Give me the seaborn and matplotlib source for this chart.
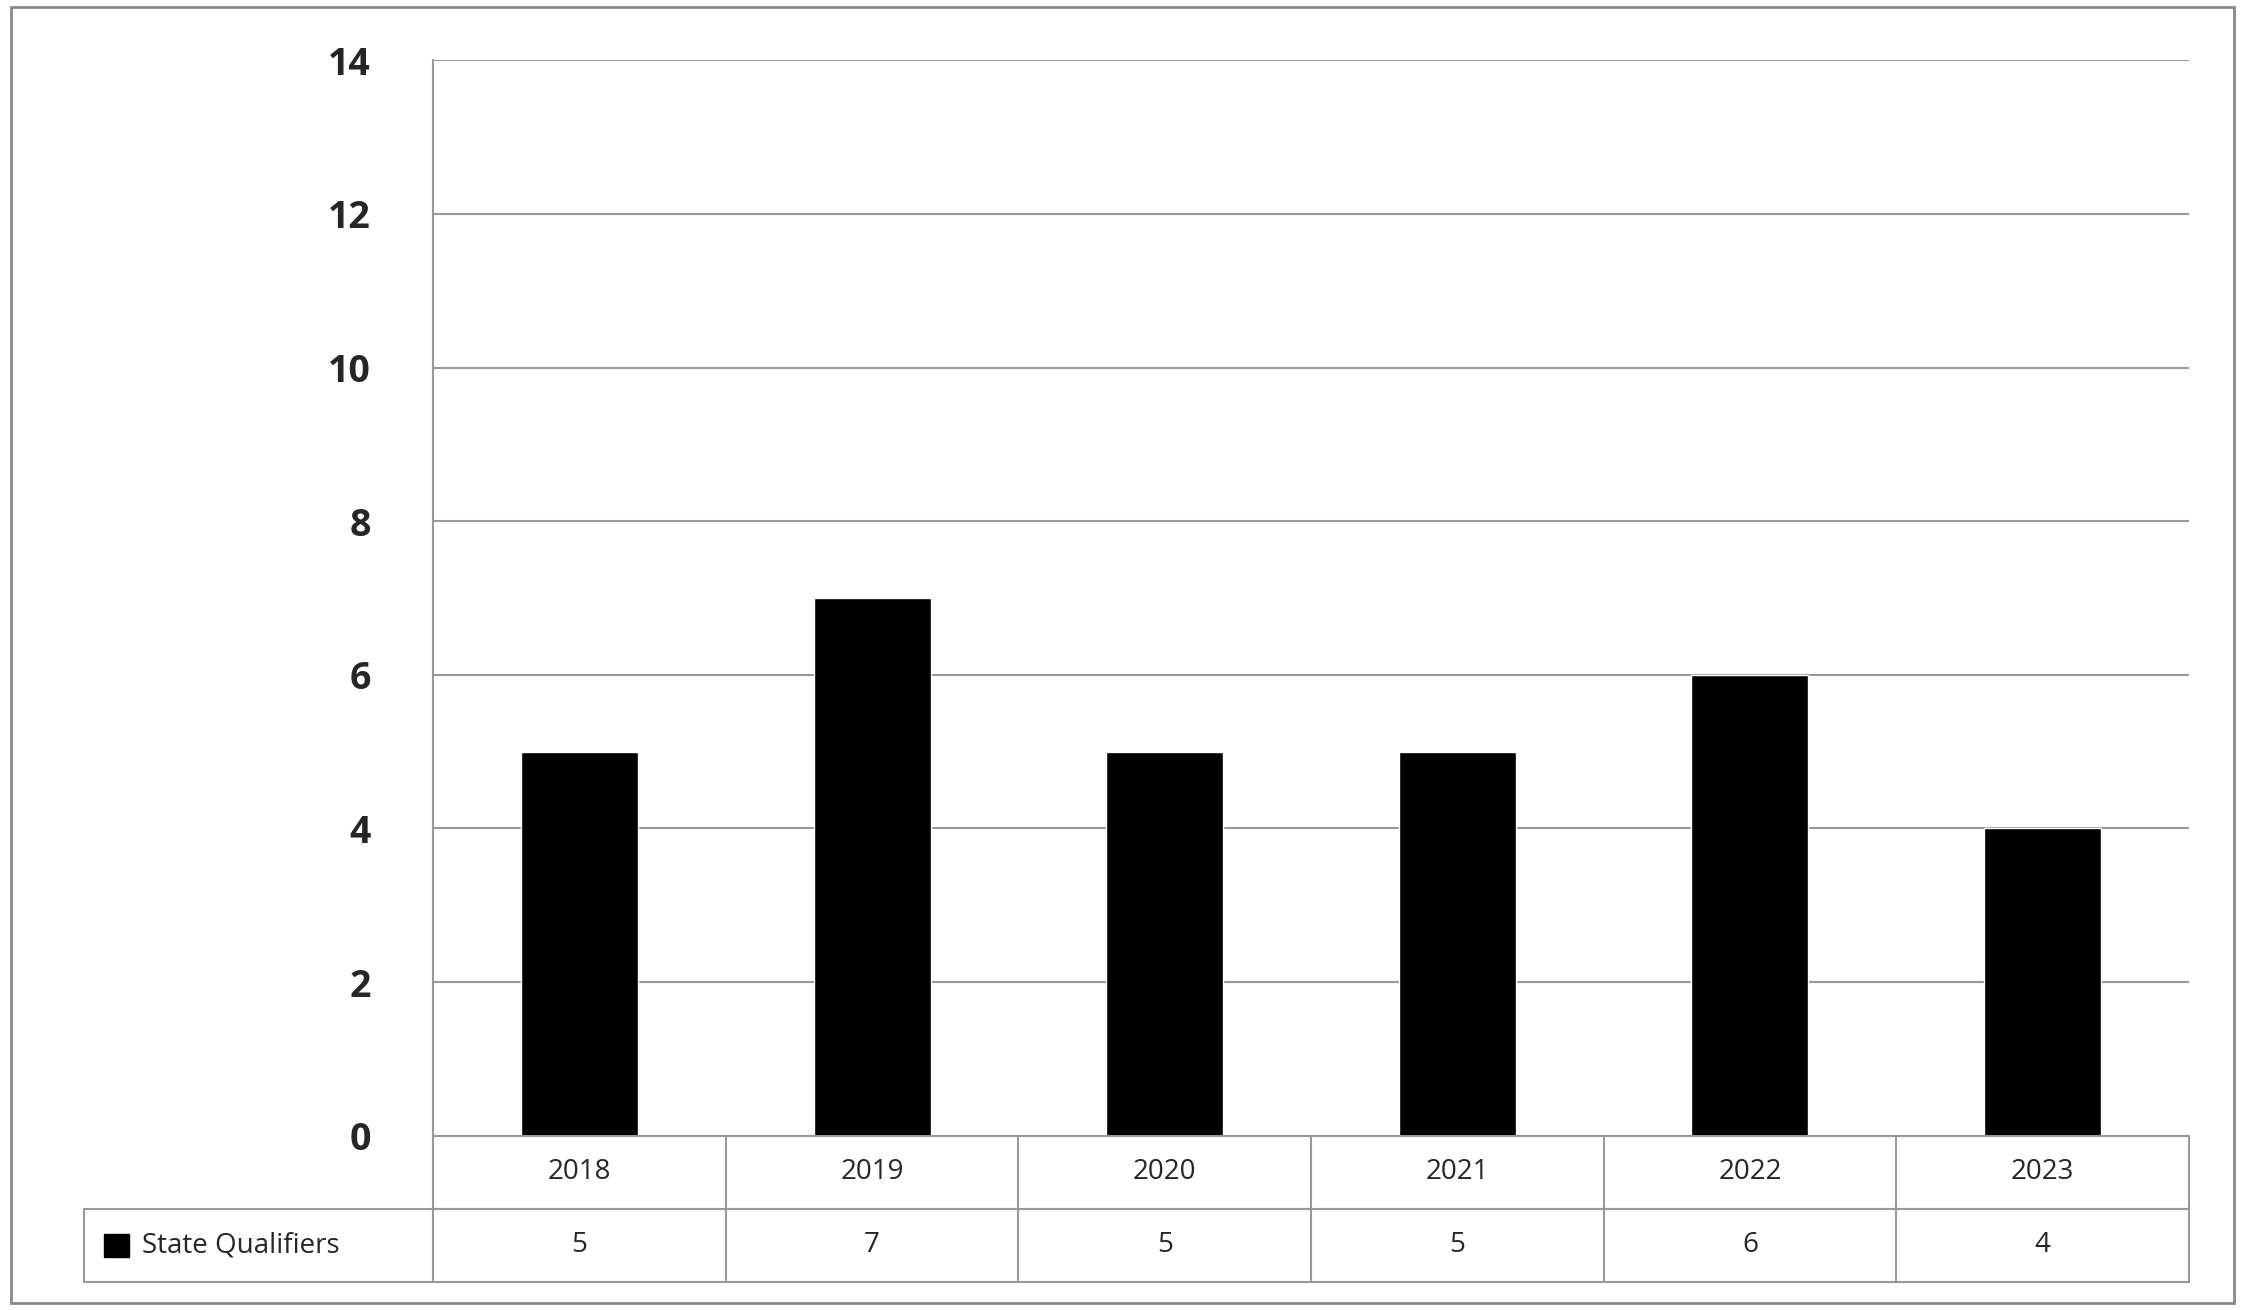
import matplotlib
matplotlib.use("Agg")
import matplotlib.pyplot as plt
import matplotlib.transforms as mtransforms
from matplotlib.lines import Line2D
from matplotlib.patches import Rectangle
import seaborn as sns
import pandas as pd

years = ["2018", "2019", "2020", "2021", "2022", "2023"]
qualifiers = [5, 7, 5, 5, 6, 4]
series_name = "State Qualifiers"

sns.set_style("white")
plt.rcParams['font.family'] = ['Open Sans', 'DejaVu Sans']

fig = plt.figure(figsize=(22.45, 13.10), dpi=100)
ax = fig.add_axes([0.193, 0.133, 0.782, 0.821])
df = pd.DataFrame({"year": years, "val": qualifiers})
sns.barplot(data=df, x="year", y="val", color="black", width=0.4, ax=ax, saturation=1)
ax.set_ylim(0, 14)
ax.set_xlim(-0.5, len(years) - 0.5)
ax.set_yticks(range(0, 15, 2))
ax.yaxis.grid(True, color="#999999", linewidth=1.5)
ax.set_axisbelow(True)
for s in ["top", "right", "bottom"]:
    ax.spines[s].set_visible(False)
ax.spines["left"].set_color("#999999")
ax.spines["left"].set_linewidth(1.5)
ax.set_xlabel("")
ax.set_ylabel("")
ax.set_xticks([])
ax.tick_params(axis="y", length=0, pad=45, labelsize=27)
for t in ax.get_yticklabels():
    t.set_fontweight("bold")

# data table
tr = mtransforms.blended_transform_factory(ax.transData, ax.transAxes)
rh = 0.068
lc = "#999999"
lw = 1.5
left_x = -0.5 - 0.199 * len(years)
def line(xs, ys):
    ax.add_line(Line2D(xs, ys, transform=tr, color=lc, lw=lw, clip_on=False))
line([-0.5, 5.5], [0, 0])
line([-0.5, 5.5], [-rh, -rh])
line([left_x, 5.5], [-rh, -rh])
line([left_x, 5.5], [-2 * rh, -2 * rh])
line([left_x, left_x], [-rh, -2 * rh])
for i in range(len(years) + 1):
    line([i - 0.5, i - 0.5], [0, -2 * rh])
for i, (y, v) in enumerate(zip(years, qualifiers)):
    ax.text(i, -rh / 2, y, transform=tr, ha="center", va="center", fontsize=20)
    ax.text(i, -1.5 * rh, str(v), transform=tr, ha="center", va="center", fontsize=20)
ax.add_patch(Rectangle((left_x + 0.07, -1.5 * rh - 0.011), 0.085, 0.022, transform=tr,
                       color="black", clip_on=False))
ax.text(left_x + 0.2, -1.5 * rh, series_name, transform=tr, ha="left", va="center", fontsize=20)

fig.add_artist(Rectangle((0.005, 0.005), 0.99, 0.99, transform=fig.transFigure,
                         fill=False, edgecolor="#888888", lw=2))
fig.savefig("out.png", dpi=100, facecolor="white")
